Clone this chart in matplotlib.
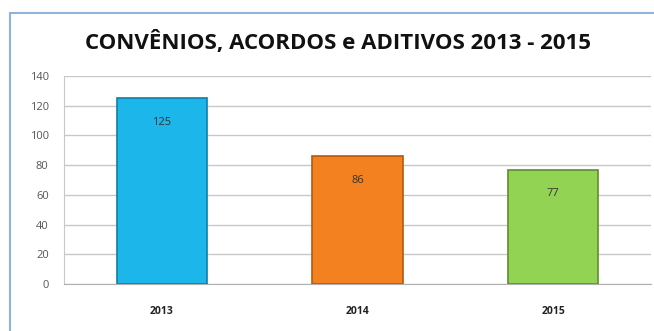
import matplotlib.pyplot as plt
from matplotlib.patches import Rectangle

anos = ["2013", "2014", "2015"]
totais = [125, 86, 77]
cores = ["#1DB6EA", "#F38120", "#93D353"]
bordas = ["#0E7FA6", "#B45A10", "#5E8E2E"]
yticks = [0, 20, 40, 60, 80, 100, 120, 140]

plt.rcParams["font.family"] = ["Open Sans", "DejaVu Sans"]

fig = plt.figure(figsize=(6.54, 3.31), dpi=100)
fig.patches.append(Rectangle((10 / 654, -0.05), 1.0, (331 - 13) / 331 + 0.05,
                             transform=fig.transFigure, fill=False,
                             edgecolor="#8FB3DA", linewidth=1.5))

ax = fig.add_axes([64 / 654, 47 / 331, 587 / 654, 208 / 331])
x = range(len(anos))
bars = ax.bar(x, totais, width=0.46, color=cores, edgecolor=bordas,
              linewidth=1.2, zorder=3)
for b, v in zip(bars, totais):
    ax.annotate(str(v), (b.get_x() + b.get_width() / 2, v),
                xytext=(0, -24), textcoords="offset pixels",
                ha="center", va="center", fontsize=8, color="#333333",
                zorder=4)

ax.set_xlim(-0.5, len(anos) - 0.5)
ax.set_ylim(0, 140)
ax.set_yticks(yticks)
ax.set_xticks(list(x))
ax.set_xticklabels(anos, fontweight="bold", fontsize=7.5, color="#222222")
ax.tick_params(axis="y", labelsize=8, labelcolor="#555555", length=0, pad=11)
ax.tick_params(axis="x", length=0, pad=16)
ax.grid(axis="y", color="#C8C8C8", linewidth=1, zorder=0)
for side in ["top", "right"]:
    ax.spines[side].set_visible(False)
ax.spines["left"].set_color("#C8C8C8")
ax.spines["bottom"].set_color("#B0B0B0")

fig.text(338 / 654, 1 - 43 / 331, "CONVÊNIOS, ACORDOS e ADITIVOS 2013 - 2015",
         ha="center", va="center", fontsize=16, fontweight="bold",
         color="#111111")

fig.savefig("out.png", dpi=100)
plt.close("all")
